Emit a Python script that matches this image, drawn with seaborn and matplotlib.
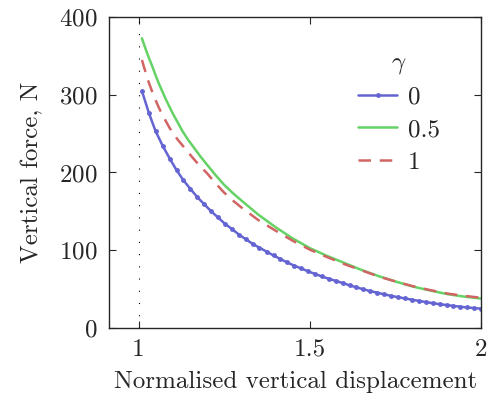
import numpy as np
import pandas as pd
import matplotlib
matplotlib.use("Agg")
import matplotlib.pyplot as plt
import seaborn as sns

# gamma = 0 (sampled points, shown with markers)
disp_g0 = [1.010, 1.030, 1.050, 1.071, 1.091, 1.111, 1.131, 1.151, 1.172, 1.192,
           1.212, 1.232, 1.252, 1.273, 1.293, 1.313, 1.333, 1.353, 1.374, 1.394,
           1.414, 1.434, 1.454, 1.475, 1.495, 1.515, 1.535, 1.555, 1.576, 1.596,
           1.616, 1.636, 1.656, 1.677, 1.697, 1.717, 1.737, 1.757, 1.778, 1.798,
           1.818, 1.838, 1.858, 1.879, 1.899, 1.919, 1.939, 1.959, 1.980, 2.000]
force_g0 = [305, 277, 253, 234, 218, 203, 190, 179, 168, 159,
            150, 142, 134, 127, 120, 114, 108, 103, 98, 93,
            88.5, 84, 80, 76.3, 72.6, 69.2, 66, 63, 60.2, 57.5,
            54.5, 52, 49.4, 47, 45, 42.9, 41, 39.3, 37.6, 36,
            34.5, 33, 31.6, 30.3, 29.1, 28, 27, 26, 25.2, 24.5]

# gamma = 0.5 and gamma = 1
disp_c = [1.01, 1.02, 1.03, 1.04, 1.05, 1.06, 1.07, 1.08, 1.09, 1.10,
          1.115, 1.13, 1.145, 1.16, 1.18, 1.20, 1.225, 1.25, 1.275, 1.30,
          1.35, 1.40, 1.45, 1.50, 1.55, 1.60, 1.65, 1.70, 1.75, 1.80,
          1.85, 1.90, 1.95, 2.00]
force_g05 = [373, 360, 348, 337, 325, 314, 304, 294, 285, 276,
             264, 252, 242, 233, 221, 210, 196.5, 184, 173.5, 164,
             145.5, 129.5, 115, 102.5, 92.5, 83.5, 74.5, 66.5, 59.5, 53,
             48, 43.3, 40, 37.5]
force_g1 = [345, 330, 316, 304, 293, 283, 274, 266, 258, 251,
            242, 234, 226, 218, 208, 199, 186, 174, 164, 155,
            138.5, 125, 112, 100.5, 91, 82, 74, 66, 59.5, 53.5,
            48.5, 44, 41, 38.5]

gamma_labels = ["0", "0.5", "1"]

sns.set_style("ticks")
plt.rcParams["font.family"] = ["cmr10", "DejaVu Serif"]
plt.rcParams["mathtext.fontset"] = "cm"
plt.rcParams["axes.formatter.use_mathtext"] = True

fig, ax = plt.subplots(figsize=(4.89, 4.03), dpi=100)
fig.subplots_adjust(left=0.223, right=0.984, bottom=0.187, top=0.957)

ax.axvline(1.0, color="black", lw=0.8, linestyle=(0, (1, 10)), zorder=1)

sns.lineplot(x=disp_g0, y=force_g0, ax=ax, color="#6464d2", lw=1.8,
             marker="o", markersize=3.5, markeredgewidth=0, label=gamma_labels[0])
sns.lineplot(x=disp_c, y=force_g05, ax=ax, color="#64d264", lw=1.8,
             label=gamma_labels[1])
sns.lineplot(x=disp_c, y=force_g1, ax=ax, color="#d26464", lw=1.8,
             label=gamma_labels[2])
ax.lines[-1].set_dashes((5, 3.5))

ax.set_xlim(0.914, 2.0)
ax.set_ylim(0, 400)
ax.set_xticks([1, 1.5, 2])
ax.set_xticklabels(["1", "1.5", "2"])
ax.set_yticks([0, 100, 200, 300, 400])
ax.tick_params(direction="in", length=5, width=0.8, top=True, right=True,
               labelsize=18, pad=8)
for s in ax.spines.values():
    s.set_linewidth(1.0)
    s.set_visible(True)

ax.set_xlabel("Normalised vertical displacement", fontsize=18, labelpad=7)
ax.set_ylabel("Vertical force, N", fontsize=18, labelpad=12)

leg = ax.legend(title=r"$\gamma$", frameon=False, fontsize=18, title_fontsize=18,
                loc="upper right", bbox_to_anchor=(0.89, 0.89),
                handlelength=1.55, handletextpad=0.45, labelspacing=0.4,
                numpoints=1, borderaxespad=0, borderpad=0)

fig.savefig("out.png", dpi=100)
